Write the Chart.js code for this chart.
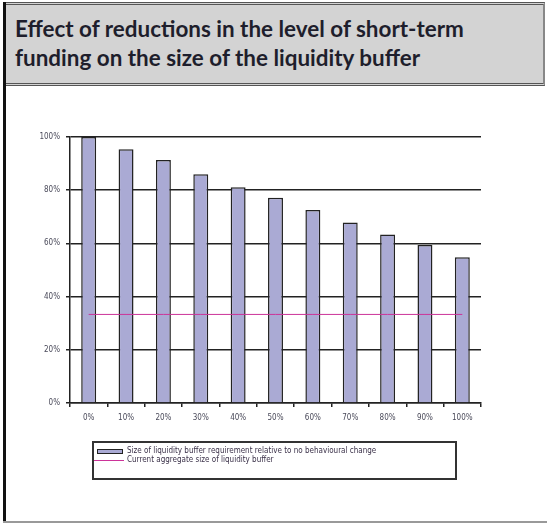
<!DOCTYPE html>
<html>
<head>
<meta charset="utf-8">
<script src="https://cdn.jsdelivr.net/npm/chart.js@4"></script>
<style>
  html, body { margin:0; padding:0; background:#fff; }
  body { width:547px; height:523px; position:relative; overflow:hidden; }
  #titlebox { position:absolute; left:4px; top:2px; width:539px; height:78px;
    background:#d3d3d3; border-top:3px double #555; border-bottom:3px double #555; border-right:2px solid #888; }
  #title { position:absolute; left:11px; top:9px; font-family:Lato, "DejaVu Sans", sans-serif; font-weight:bold;
    font-size:20px; line-height:29px; color:#1e1e2c; white-space:nowrap; }
  #leftbar { position:absolute; left:3px; top:2px; width:3px; height:521px; background:#111; }
  #bottombar { position:absolute; left:3px; top:521px; width:544px; height:2px; background:#999; }
  #c { position:absolute; left:0; top:0; }
  #legend { position:absolute; left:92px; top:441px; width:361px; height:35px; border:2px solid #333;
    font-family:"DejaVu Sans Condensed", "DejaVu Sans", sans-serif; font-size:8px; color:#3a3048; }
  .item { position:absolute; left:0; height:10px; line-height:10px; white-space:nowrap; }
  .sw { position:absolute; }
  .txt { position:absolute; left:33px; top:0; }
</style>
</head>
<body>
<div id="titlebox"><div id="title">Effect of reductions in the level of short-term<br>funding on the size of the liquidity buffer</div></div>
<div id="leftbar"></div>
<div id="bottombar"></div>
<canvas id="c" width="547" height="523"></canvas>
<div id="legend"></div>
<script>
const categories = ["0%","10%","20%","30%","40%","50%","60%","70%","80%","90%","100%"];
const bufferRequirement = [100, 95.4, 91.4, 86.0, 81.1, 77.2, 72.6, 67.9, 63.3, 59.4, 54.8];
const currentBuffer = [33.3, 33.3, 33.3, 33.3, 33.3, 33.3, 33.3, 33.3, 33.3, 33.3, 33.3];
const yTicks = [0, 20, 40, 60, 80, 100];
const seriesNames = ["Size of liquidity buffer requirement relative to no behavioural change",
                     "Current aggregate size of liquidity buffer"];

// fit title width
(function(){
  const t = document.getElementById('title');
  const cv = document.createElement('canvas').getContext('2d');
  cv.font = 'bold 20px Lato';
  const w = cv.measureText('Effect of reductions in the level of short-term').width;
  t.style.fontSize = (20 * 450 / w).toFixed(2) + 'px';
})();

const barFill = '#aaaad4';
const tickFont = { family: '"DejaVu Sans Condensed", "DejaVu Sans", sans-serif', size: 8 };

new Chart(document.getElementById('c'), {
  type: 'bar',
  data: {
    labels: categories,
    datasets: [
      { type: 'line', label: seriesNames[1], data: currentBuffer, borderColor: '#cc3399', borderWidth: 1,
        pointRadius: 0, fill: false, order: 0 },
      { type: 'bar', label: seriesNames[0], data: bufferRequirement, backgroundColor: barFill,
        borderColor: '#222', borderWidth: 1.5, categoryPercentage: 1, barPercentage: 0.4, order: 1 }
    ]
  },
  options: {
    responsive: false,
    animation: false,
    layout: { padding: { left: 0, right: 66, top: 137, bottom: 0 } },
    plugins: { legend: { display: false }, tooltip: { enabled: false } },
    scales: {
      x: {
        grid: { display: true, drawOnChartArea: false, drawTicks: true, tickLength: 4, color: '#222', lineWidth: 1.5, offset: true },
        border: { display: true, color: '#222', width: 1.5 },
        ticks: { font: tickFont, color: '#4a4a5a', padding: 6, maxRotation: 0 },
        afterFit: s => { s.height = 120; }
      },
      y: {
        min: 0, max: 100,
        afterBuildTicks: s => { s.ticks = yTicks.map(v => ({ value: v })); },
        grid: { color: '#222', lineWidth: 1.5, drawTicks: true, tickLength: 4 },
        border: { display: true, color: '#222', width: 1.5 },
        ticks: { font: tickFont, color: '#4a4a5a', padding: 6, callback: v => v + '%' },
        afterFit: s => { s.width = 70; }
      }
    }
  }
});

// legend from series names
const lg = document.getElementById('legend');
lg.innerHTML =
  '<div class="item" style="top:3px"><div class="sw" style="left:3px;top:3px;width:24px;height:3px;background:' + barFill + ';border:1.5px solid #222"></div><div class="txt">' + seriesNames[0] + '</div></div>' +
  '<div class="item" style="top:12px"><div class="sw" style="left:0;top:5px;width:30px;height:1px;background:#cc3399"></div><div class="txt">' + seriesNames[1] + '</div></div>';
</script>
</body>
</html>
